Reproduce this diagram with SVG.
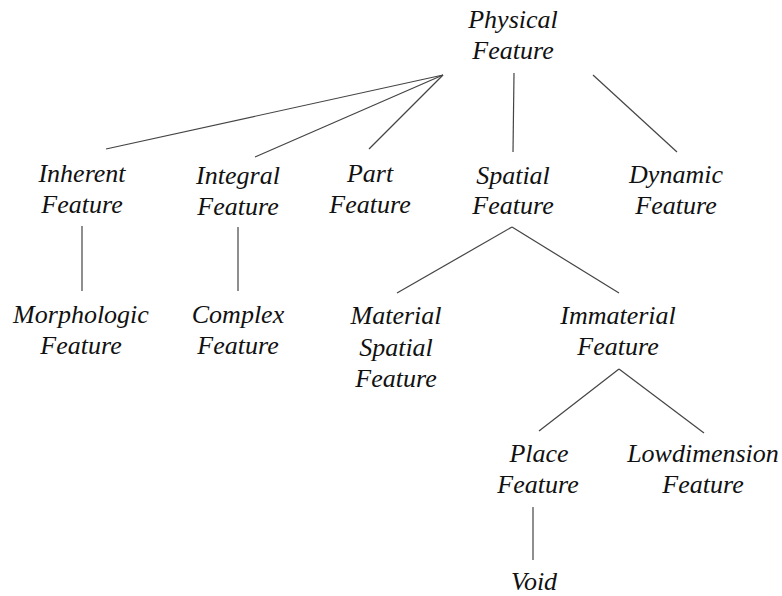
<svg xmlns="http://www.w3.org/2000/svg" width="782" height="596" viewBox="0 0 782 596">
<style>
.c line{stroke:#444;stroke-width:1.2;fill:none}
</style>
<rect width="782" height="596" fill="#fff"/>
<g class="c" id="connectors">
<line x1="443" y1="75" x2="106" y2="149"/>
<line x1="443" y1="75" x2="255" y2="157"/>
<line x1="443" y1="75" x2="369" y2="149"/>
<line x1="514" y1="73" x2="513" y2="152"/>
<line x1="593" y1="75" x2="677" y2="152"/>
<line x1="82" y1="226" x2="82" y2="291"/>
<line x1="238" y1="227" x2="238" y2="291"/>
<line x1="512" y1="227" x2="397" y2="293"/>
<line x1="512" y1="227" x2="619" y2="293"/>
<line x1="619" y1="369" x2="539" y2="431"/>
<line x1="619" y1="369" x2="704" y2="433"/>
<line x1="533" y1="507" x2="533" y2="560"/>
</g>
<g font-family="Liberation Serif" font-style="italic" font-size="26" fill="#111" text-anchor="middle">
<g id="physical"><text x="513" y="28">Physical</text><text x="513" y="59">Feature</text></g>
<g id="inherent"><text x="82" y="182">Inherent</text><text x="82" y="213">Feature</text></g>
<g id="integral"><text x="238" y="184">Integral</text><text x="238" y="215">Feature</text></g>
<g id="part"><text x="370" y="182">Part</text><text x="370" y="213">Feature</text></g>
<g id="spatial"><text x="513" y="184">Spatial</text><text x="513" y="214">Feature</text></g>
<g id="dynamic"><text x="676" y="183">Dynamic</text><text x="676" y="214">Feature</text></g>
<g id="morphologic"><text x="81" y="323">Morphologic</text><text x="81" y="354">Feature</text></g>
<g id="complex"><text x="238" y="323">Complex</text><text x="238" y="354">Feature</text></g>
<g id="material"><text x="396" y="324">Material</text><text x="396" y="356">Spatial</text><text x="396" y="387">Feature</text></g>
<g id="immaterial"><text x="618" y="324">Immaterial</text><text x="618" y="355">Feature</text></g>
<g id="place"><text x="539" y="462">Place</text><text x="538" y="493">Feature</text></g>
<g id="lowdimension"><text x="703" y="462">Lowdimension</text><text x="703" y="493">Feature</text></g>
<g id="void"><text x="534" y="590">Void</text></g>
</g>
</svg>
